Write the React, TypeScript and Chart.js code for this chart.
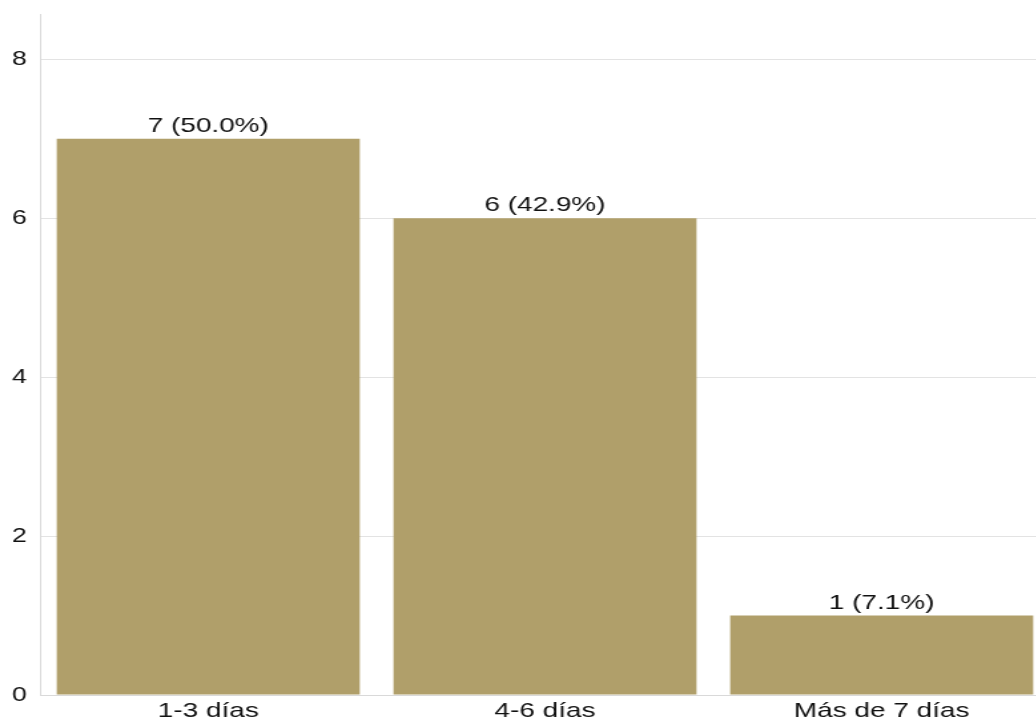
import React, { useEffect, useRef } from "react";
import { Chart, registerables } from "chart.js";

Chart.register(...registerables);

const categories: string[] = ["1-3 días", "4-6 días", "Más de 7 días"];
const counts: number[] = [7, 6, 1];
const percents: number[] = [50.0, 42.9, 7.1];
const yTicks: number[] = [0, 2, 4, 6, 8];

const BAR_COLOR = "#B09F6A";
const TEXT_COLOR = "#111111";
const FONT = "'Liberation Sans', Arial, sans-serif";

// The canvas is drawn narrower and stretched wide by CSS, giving the broad lettering
const CANVAS_W = 789;
const CANVAS_H = 721;
const DISPLAY_W = 1050;

// Writes "count (pct%)" centred above each bar
const valueLabels = {
  id: "valueLabels",
  afterDatasetsDraw(chart: any) {
    const ctx = chart.ctx;
    const meta = chart.getDatasetMeta(0);
    ctx.save();
    ctx.font = `21px ${FONT}`;
    ctx.fillStyle = TEXT_COLOR;
    ctx.textAlign = "center";
    ctx.textBaseline = "alphabetic";
    meta.data.forEach((bar: any, i: number) => {
      const text = `${counts[i]} (${percents[i].toFixed(1)}%)`;
      ctx.fillText(text, bar.x, bar.y - 7);
    });
    ctx.restore();
  },
};

export default function App() {
  const canvasRef = useRef<HTMLCanvasElement | null>(null);

  useEffect(() => {
    if (!canvasRef.current) return;
    const chart = new Chart(canvasRef.current, {
      type: "bar",
      data: {
        labels: categories,
        datasets: [
          {
            data: counts,
            backgroundColor: BAR_COLOR,
            barPercentage: 0.9,
            categoryPercentage: 1.0,
          },
        ],
      },
      options: {
        animation: false,
        responsive: false,
        maintainAspectRatio: false,
        devicePixelRatio: 1,
        layout: { padding: { top: 14, right: 0, left: 0, bottom: 0 } },
        plugins: {
          legend: { display: false },
          tooltip: { enabled: false },
        },
        scales: {
          x: {
            grid: { display: false, drawTicks: false },
            border: { display: true, color: "#d9d9d9", width: 1 },
            ticks: {
              color: TEXT_COLOR,
              font: { family: FONT, size: 21 },
              padding: 4,
              maxRotation: 0,
            },
            afterFit(scale: any) {
              scale.height = 26;
              scale.paddingLeft = 0;
              scale.paddingRight = 0;
            },
          },
          y: {
            min: 0,
            max: 8.57,
            grid: { color: "#e3e3e3", drawTicks: false },
            border: { display: true, color: "#d9d9d9", width: 1 },
            afterBuildTicks(scale: any) {
              scale.ticks = yTicks.map((v) => ({ value: v }));
            },
            ticks: {
              includeBounds: false,
              color: TEXT_COLOR,
              font: { family: FONT, size: 20 },
              padding: 10,
            },
            afterFit(scale: any) {
              scale.width = 30;
              scale.paddingTop = 0;
              scale.paddingBottom = 0;
            },
          },
        },
      },
      plugins: [valueLabels],
    });
    return () => chart.destroy();
  }, []);

  return (
    <div
      style={{
        position: "fixed",
        left: 0,
        top: 0,
        width: DISPLAY_W,
        height: CANVAS_H,
        background: "#ffffff",
      }}
    >
      <canvas
        ref={canvasRef}
        width={CANVAS_W}
        height={CANVAS_H}
        style={{ display: "block", width: DISPLAY_W, height: CANVAS_H }}
      />
    </div>
  );
}
